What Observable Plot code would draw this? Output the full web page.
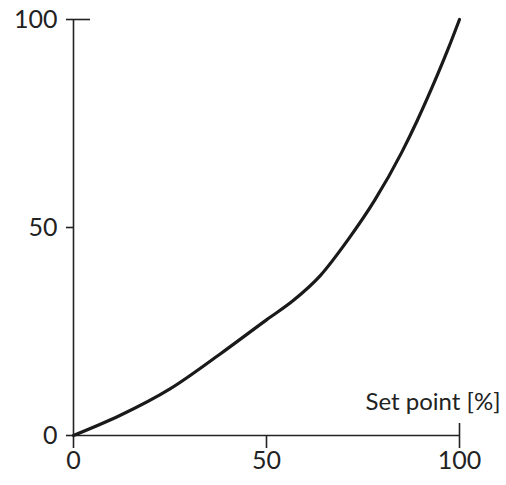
<!DOCTYPE html>
<html>
<head>
<meta charset="utf-8">
<script src="https://cdn.jsdelivr.net/npm/d3@7"></script>
<script src="https://cdn.jsdelivr.net/npm/@observablehq/plot@0.6"></script>
<style>
  html, body { margin: 0; padding: 0; background: #fff; }
  svg { display: block; }
</style>
</head>
<body>
<div id="chart"></div>
<script>
const setPoint = [0, 12, 25, 38, 50, 57, 64, 71, 78, 85, 89, 93, 97, 100];
const output   = [0, 4.8, 11.2, 19.6, 27.8, 32.5, 38.5, 46.9, 56.5, 68, 75.6, 83.9, 92.8, 100];
const ticks = [0, 50, 100];
const xLabel = "Set point [%]";

const data = setPoint.map((x, i) => ({x, y: output[i]}));
const ink = "#222";
const font = "Lato, 'Open Sans', sans-serif";

const chart = Plot.plot({
  width: 506,
  height: 485,
  marginTop: 19,
  marginBottom: 50,
  marginLeft: 73,
  marginRight: 47,
  style: {fontFamily: font, color: ink, background: "#fff"},
  x: {domain: [0, 100], axis: null},
  y: {domain: [0, 100], axis: null},
  marks: [
    Plot.ruleY([0], {stroke: ink, strokeWidth: 1.6}),
    Plot.ruleX([0], {stroke: ink, strokeWidth: 1.6}),
    Plot.axisX({ticks, label: null, tickSize: 13, tickPadding: 3, fontSize: 25, stroke: ink, strokeWidth: 1.6, fill: ink, tickFormat: d => String(d)}),
    Plot.axisY({ticks, label: null, tickSize: 7, tickPadding: 9, fontSize: 25, stroke: ink, strokeWidth: 1.6, fill: ink, tickFormat: d => String(d)}),
    Plot.ruleX([100], {y1: 0, y2: 0, insetTop: -12, stroke: ink, strokeWidth: 1.6}),
    Plot.ruleY([100], {x1: 0, x2: 0, insetRight: -17, stroke: ink, strokeWidth: 1.6}),
    Plot.line(data, {x: "x", y: "y", curve: "monotone-x", stroke: "#1a1a1a", strokeWidth: 3.2}),
    Plot.text([xLabel], {x: 100, y: 0, text: d => d, textAnchor: "end", lineAnchor: "middle", dx: 41, dy: -33, fontSize: 24, fill: ink})
  ]
});
document.getElementById("chart").appendChild(chart);
</script>
</body>
</html>
